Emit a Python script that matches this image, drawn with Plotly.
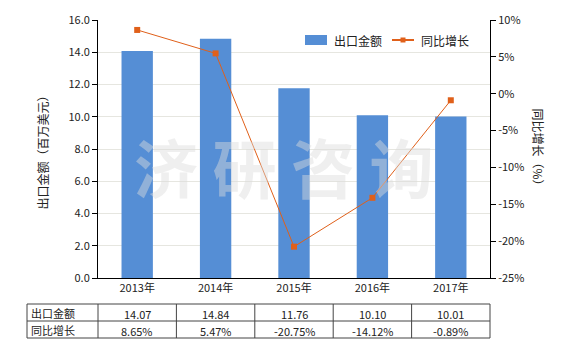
import plotly.graph_objects as go

years = ["2013年", "2014年", "2015年", "2016年", "2017年"]
export_values = [14.07, 14.84, 11.76, 10.10, 10.01]
growth_pct = [8.65, 5.47, -20.75, -14.12, -0.89]
left_ticks = [0, 2, 4, 6, 8, 10, 12, 14, 16]
right_ticks = [-25, -20, -15, -10, -5, 0, 5, 10]
series_names = ["出口金额", "同比增长"]

W, H = 580, 350
ML, MR, MT, MB = 98, 90, 20, 72
PW, PH = W - ML - MR, H - MT - MB

BAR_COLOR = "#558ED5"
LINE_COLOR = "#E0601A"
FONT = "Noto Sans CJK SC, DejaVu Sans, sans-serif"

fig = go.Figure()
fig.add_trace(go.Bar(
    x=years, y=export_values, name=series_names[0],
    marker=dict(color=BAR_COLOR, line=dict(width=0)), width=0.4,
    showlegend=False,
))
fig.add_trace(go.Scatter(
    x=years, y=growth_pct, name=series_names[1], yaxis="y2",
    mode="lines+markers",
    line=dict(color=LINE_COLOR, width=1),
    marker=dict(symbol="square", size=6, color=LINE_COLOR),
    showlegend=False,
))

def px(x):
    return (x - ML) / PW

def py(y):
    return (H - MB - y) / PH

shapes = []
annotations = []
# table
tx0 = 27
cols = [ML + PW * k / 5 for k in range(6)]
ys = [304, 321, 338]
line_style = dict(color="#444444", width=1)
for y in ys:
    shapes.append(dict(type="line", xref="paper", yref="paper",
                       x0=px(tx0), x1=px(cols[-1]), y0=py(y), y1=py(y), line=line_style))
for x in [tx0] + cols:
    shapes.append(dict(type="line", xref="paper", yref="paper",
                       x0=px(x), x1=px(x), y0=py(ys[0]), y1=py(ys[-1]), line=line_style))

rows = [
    (series_names[0], ["%.2f" % v for v in export_values]),
    (series_names[1], ["%.2f%%" % v for v in growth_pct]),
]
for r, (label, vals) in enumerate(rows):
    yc = (ys[r] + ys[r + 1]) / 2
    annotations.append(dict(xref="paper", yref="paper", x=px(tx0 + 2), y=py(yc),
                            text=label, showarrow=False, xanchor="left", yanchor="middle",
                            font=dict(size=11, color="#222222", family=FONT)))
    for i, v in enumerate(vals):
        xc = (cols[i] + cols[i + 1]) / 2
        annotations.append(dict(xref="paper", yref="paper", x=px(xc), y=py(yc + 1),
                                text=v, showarrow=False, xanchor="center", yanchor="middle",
                                font=dict(size=11, color="#222222", family=FONT)))

# custom legend
ly = 40
shapes.append(dict(type="rect", xref="paper", yref="paper",
                   x0=px(305), x1=px(327), y0=py(ly - 5), y1=py(ly + 5),
                   fillcolor=BAR_COLOR, line=dict(width=0)))
annotations.append(dict(xref="paper", yref="paper", x=px(332), y=py(ly),
                        text=series_names[0], showarrow=False, xanchor="left", yanchor="middle",
                        font=dict(size=12, color="#222222", family=FONT)))
shapes.append(dict(type="line", xref="paper", yref="paper",
                   x0=px(392), x1=px(414), y0=py(ly), y1=py(ly),
                   line=dict(color=LINE_COLOR, width=2)))
shapes.append(dict(type="rect", xref="paper", yref="paper",
                   x0=px(400.5), x1=px(405.5), y0=py(ly - 2.5), y1=py(ly + 2.5),
                   fillcolor=LINE_COLOR, line=dict(width=0)))
annotations.append(dict(xref="paper", yref="paper", x=px(419), y=py(ly),
                        text=series_names[1], showarrow=False, xanchor="left", yanchor="middle",
                        font=dict(size=12, color="#222222", family=FONT)))

# axis titles
annotations.append(dict(xref="paper", yref="paper", x=px(31), y=py(150),
                        text="出口金额（百万美元）", textangle=-90, showarrow=False,
                        font=dict(size=12, color="#222222", family=FONT)))
annotations.append(dict(xref="paper", yref="paper", x=px(549), y=py(150),
                        text="同比增长（%）", textangle=90, showarrow=False,
                        font=dict(size=12, color="#222222", family=FONT)))
# watermark
annotations.append(dict(xref="paper", yref="paper", x=px(284), y=py(165),
                        text="<b>济 研 咨 询</b>", showarrow=False,
                        font=dict(size=64, color="rgba(220,220,220,0.45)", family=FONT)))

fig.update_layout(
    width=W, height=H,
    margin=dict(l=ML, r=MR, t=MT, b=MB, pad=0),
    paper_bgcolor="white", plot_bgcolor="white",
    font=dict(family=FONT, size=11, color="#222222"),
    showlegend=False,
    bargap=0.6,
    xaxis=dict(showline=True, linecolor="#000000", linewidth=1, ticks="",
               tickfont=dict(size=11), showgrid=False, fixedrange=True),
    yaxis=dict(range=[0, 16], tickvals=left_ticks, tickformat=".1f",
               showline=True, linecolor="#000000", linewidth=1,
               ticks="outside", ticklen=5, tickcolor="#000000",
               showgrid=True, gridcolor="#E6E6E0", gridwidth=1,
               zeroline=False, tickfont=dict(size=11)),
    yaxis2=dict(range=[-25, 10], tickvals=right_ticks,
                ticktext=["%d%%" % t for t in right_ticks],
                overlaying="y", side="right",
                showline=True, linecolor="#000000", linewidth=1,
                ticks="outside", ticklen=5, tickcolor="#000000",
                showgrid=False, zeroline=False, tickfont=dict(size=11)),
    shapes=shapes,
    annotations=annotations,
)

fig.write_html("out.html")
